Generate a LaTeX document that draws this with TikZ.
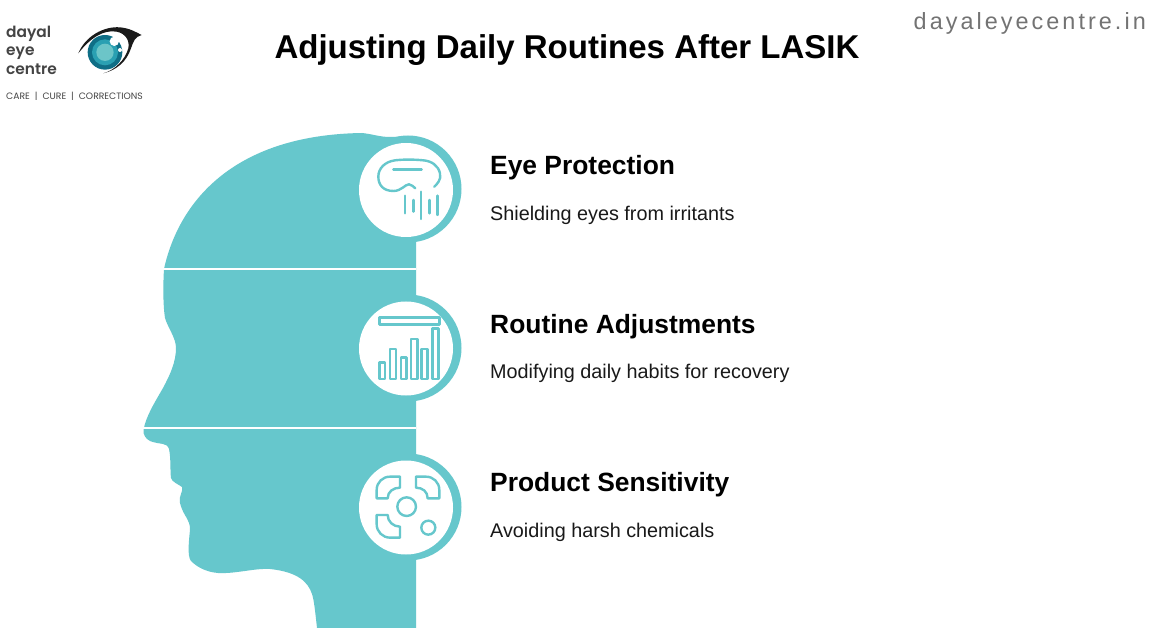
\documentclass[tikz,border=0pt]{standalone}
\usepackage{fontspec}
\setmainfont{Liberation Sans}
\newfontfamily\logofont{Poppins}
\newfontfamily\logoboldfont{Poppins SemiBold}
\newfontfamily\webfont[LetterSpace=13]{Liberation Sans}
\definecolor{teal1}{HTML}{66C7CC}
\definecolor{inkdark}{HTML}{444444}
\definecolor{irisouter}{HTML}{0F6E86}
\definecolor{irismid}{HTML}{2AA0B2}
\definecolor{irisinner}{HTML}{6CC5C8}
\definecolor{lash}{HTML}{1A1A1A}
\tikzset{
  x=1pt,y=-1pt,
  titletext/.style={anchor=base,font=\fontsize{33}{33}\selectfont\bfseries,text=black,inner sep=0},
  headtext/.style={anchor=base west,font=\fontsize{26.4}{26.4}\selectfont\bfseries,text=black,inner sep=0},
  desctext/.style={anchor=base west,font=\fontsize{19.8}{19.8}\selectfont,text=black!90,inner sep=0},
  logotext/.style={anchor=base west,font=\logoboldfont\fontsize{15.4}{15.4}\selectfont,text=inkdark,inner sep=0},
  icon/.style={draw=teal1,line width=2.4pt,fill=none,line cap=round,line join=round},
  iconthin/.style={draw=teal1,line width=2.4pt,fill=none,line join=round},
  ring/.style={draw=none,fill=teal1},
  disc/.style={draw=none,fill=white},
  divider/.style={draw=white,line width=2.4pt},
}
\begin{document}
\begin{tikzpicture}
\useasboundingbox (0,0) rectangle (1170,628);
\fill[white] (0,0) rectangle (1170,628);
% head
\fill[teal1] (416,628) -- (317,628)
 .. controls (315,610) and (314,600) .. (312,594)
 .. controls (308,582) and (298,572) .. (270,569)
 .. controls (255,568) and (235,574) .. (218,573)
 .. controls (205,572) and (196,566) .. (191,561)
 .. controls (187,556) and (189,540) .. (190,530)
 .. controls (190,518) and (184,518) .. (180,503)
 .. controls (178,497) and (184,490) .. (182,487)
 .. controls (178,484) and (172,482) .. (171,478)
 .. controls (170,470) and (171,458) .. (169,449)
 .. controls (167,442) and (160,445) .. (150,441)
 .. controls (146,439) and (143,435) .. (143.5,430)
 .. controls (146,416) and (155,402) .. (163,388)
 .. controls (170,375) and (176,362) .. (176,348)
 .. controls (176,338) and (168,328) .. (165,318)
 .. controls (163,305) and (163,285) .. (164,269)
 .. controls (178,205) and (230,135) .. (362,133)
 .. controls (372,134) and (380,137) .. (390,137)
 .. controls (398,137) and (408,136) .. (416,136)
 -- cycle;
\draw[divider] (160,269) -- (416,269);
\draw[divider] (140,428) -- (416,428);
% rings
\fill[ring] (408,189) circle (53.5);
\fill[ring] (408,348) circle (53.5);
\fill[ring] (408,507) circle (53.5);
\node[disc,circle,minimum size=94pt,inner sep=0] (discA) at (406,190) {};
\node[disc,circle,minimum size=94pt,inner sep=0] (discB) at (406,348.5) {};
\node[disc,circle,minimum size=94pt,inner sep=0] (discC) at (406,507.5) {};
% icon 1
\begin{scope}[shift={(340,125)},x=0.3333pt,y=-0.3333pt]
\draw[icon] (283,185) .. controls (290,178) and (305,165) .. (300,145)
  .. controls (295,122) and (275,108) .. (250,106)
  .. controls (220,103) and (190,103) .. (165,106)
  .. controls (135,110) and (115,130) .. (115,155)
  .. controls (115,180) and (130,198) .. (160,198)
  .. controls (185,198) and (195,178) .. (207,178)
  .. controls (215,178) and (220,186) .. (226,190);
\draw[icon] (160,133) -- (245,133);
\draw[icon] (195,212) -- (195,265);
\draw[icon] (220,225) -- (220,260);
\draw[icon] (243,200) -- (243,282);
\draw[icon] (268,225) -- (268,265);
\draw[icon] (292,212) -- (292,270);
\end{scope}
% icon 2
\begin{scope}[shift={(340,285)},x=0.3333pt,y=-0.3333pt]
\draw[iconthin] (118,98) rectangle (298,118);
\draw[iconthin] (118,232) rectangle (135,282);
\draw[iconthin] (150,192) rectangle (168,282);
\draw[iconthin] (183,217) rectangle (200,282);
\draw[iconthin] (213,162) rectangle (232,282);
\draw[iconthin] (245,192) rectangle (262,282);
\draw[iconthin] (278,130) rectangle (296,282);
\end{scope}
% icon 3
\begin{scope}[shift={(340,445)},x=0.3333pt,y=-0.3333pt]
\draw[iconthin] (110,160) -- (143,160) .. controls (143,140) and (160,128) .. (180,128) -- (180,95) -- (150,95) .. controls (128,95) and (110,112) .. (110,135) -- cycle;
\draw[iconthin] (298,160) -- (263,160) .. controls (263,140) and (248,128) .. (228,128) -- (228,95) -- (258,95) .. controls (280,95) and (298,112) .. (298,135) -- cycle;
\draw[iconthin] (110,210) -- (143,210) .. controls (143,230) and (160,245) .. (180,245) -- (180,278) -- (150,278) .. controls (128,278) and (110,260) .. (110,238) -- cycle;
\draw[iconthin] (200,185) circle (28);
\draw[iconthin] (265,248) circle (21);
\end{scope}
% title and captions
\node[titletext] (title) at (567,58.5) {Adjusting Daily Routines After LASIK};
\node[headtext] (h1) at (490,174.5) {Eye Protection};
\node[desctext] (d1) at (490,220.2) {Shielding eyes from irritants};
\node[headtext] (h2) at (490,333.5) {Routine Adjustments};
\node[desctext] (d2) at (490,378) {Modifying daily habits for recovery};
\node[headtext] (h3) at (490,491.5) {Product Sensitivity};
\node[desctext] (d3) at (490,537.2) {Avoiding harsh chemicals};
\node[anchor=base east,inner sep=0,text=black!55,font=\webfont\fontsize{23.4}{23.4}\selectfont] (web) at (1146,29.5) {dayaleyecentre.in};
% logo
\node[logotext] (l1) at (6,37.5) {dayal};
\node[logotext] (l2) at (6,56) {eye};
\node[logotext] (l3) at (6,74.5) {centre};
\node[anchor=base west,inner sep=0,text=inkdark,font=\logofont\fontsize{9.25}{9.25}\selectfont] (l4) at (6,99.5) {CARE\ \ |\ \ CURE\ \ |\ \ CORRECTIONS};
% logo eye
\begin{scope}[shift={(70,20)},x=0.3333pt,y=-0.3333pt]
\fill[lash] (25,100) .. controls (45,50) and (100,18) .. (150,22)
 .. controls (180,25) and (195,35) .. (215,45)
 .. controls (195,50) and (190,65) .. (183,85)
 .. controls (170,125) and (140,150) .. (100,160)
 .. controls (135,150) and (165,120) .. (175,85)
 .. controls (180,60) and (165,40) .. (140,35)
 .. controls (100,28) and (60,55) .. (25,100) -- cycle;
\fill[irisouter] (105,97) circle (52);
\fill[irismid] (105,97) circle (39);
\fill[irisinner] (105,97) circle (26);
\fill[white] (133,64) circle (14);
\fill[white] (150,90) circle (6);
\end{scope}
\end{tikzpicture}
\end{document}
